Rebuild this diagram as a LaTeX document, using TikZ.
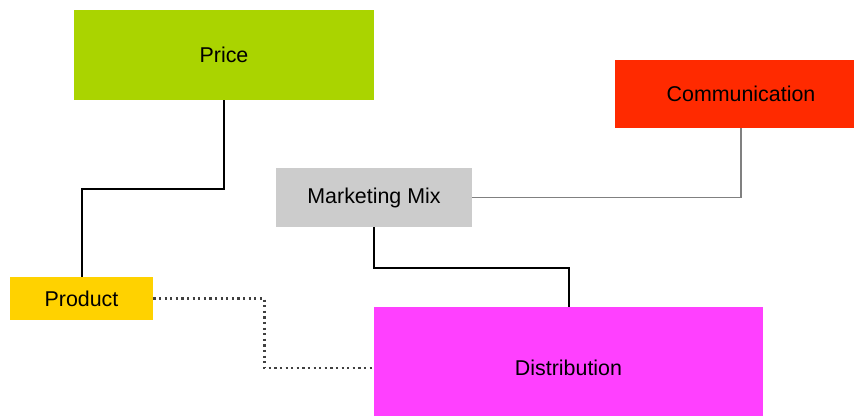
\documentclass[tikz,border=0pt]{standalone}
\usepackage{fontspec}
\setmainfont{Liberation Sans}
\usepackage[dvipsnames]{xcolor}
\usetikzlibrary{positioning,calc}
\definecolor{priceGreen}{HTML}{AAD400}
\definecolor{commRed}{HTML}{FF2A00}
\definecolor{mixGray}{HTML}{CCCCCC}
\definecolor{prodGold}{HTML}{FFD200}
\definecolor{distPink}{HTML}{FF40FF}
\tikzset{
  block/.style={
    shape = rectangle,
    inner sep = 0pt,
    font = \fontsize{10.7}{12}\selectfont
  },
  mainlink/.style={
    line width=1pt,
    black
  },
  sidelink/.style={
    line width=0.6pt,
    gray
  },
  weaklink/.style={
    line width=1.1pt,
    dash pattern=on 1.1pt off 1.7pt,
    black!75
  }
}

\begin{document}
\begin{tikzpicture}[x=0.5pt,y=-0.5pt]
    \useasboundingbox (0,0) rectangle (854,416);
        \node[block, fill=priceGreen, minimum width=150pt, minimum height=45pt] (price) at (224,55) {Price};
        \node[block, fill=commRed, minimum width=126pt, minimum height=34pt] (comm) at (741,94) {Communication};
        \node[block, fill=mixGray, minimum width=98pt, minimum height=29.5pt] (mix) at (374,197.5) {Marketing Mix};
        \node[block, fill=prodGold, minimum width=71.5pt, minimum height=21.5pt] (product) at (81.5,298.5) {Product};
        \node[block, fill=distPink, minimum width=194.5pt, minimum height=61pt] (dist) at (568.5,368) {Distribution};
        % links between the blocks
        \draw[mainlink] (price.south) -- ++(0,89) -| (product.north);
        \draw[sidelink] (comm.south) |- (mix.east);
        \draw[mainlink] (mix.south) -- ++(0,41) -| (dist.north);
        \draw[weaklink] (product.east) -- ++(111,0) |- (dist.west);
    \end{tikzpicture}
\end{document}
